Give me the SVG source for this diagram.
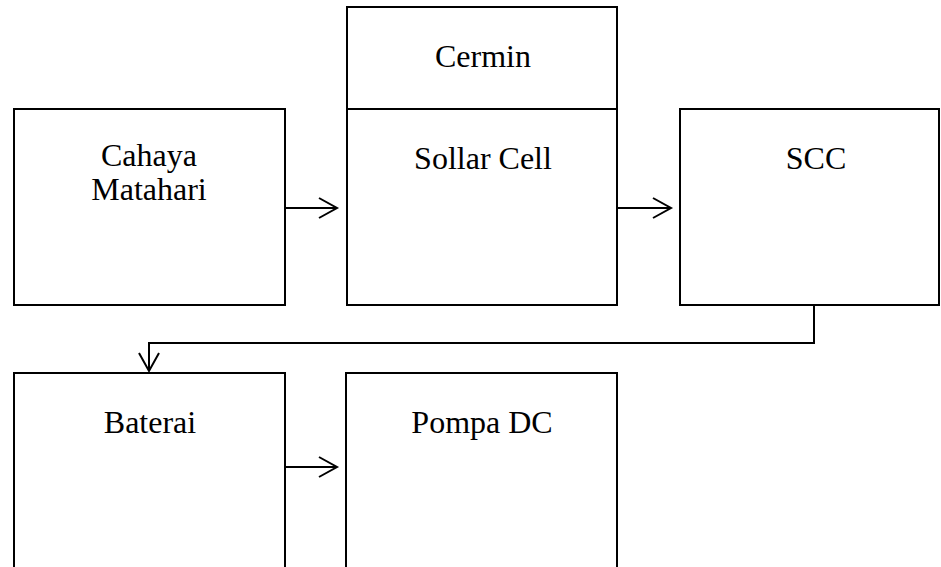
<svg xmlns="http://www.w3.org/2000/svg" width="941" height="567" viewBox="0 0 941 567">
<style>
.box{fill:#fff;stroke:#000;stroke-width:2}
.lbl{font-family:"Liberation Serif","Times New Roman",serif;font-size:32px;fill:#000;text-anchor:middle}
.conn{fill:none;stroke:#000;stroke-width:2}
</style>
<defs>
<marker id="arr" markerUnits="userSpaceOnUse" markerWidth="22" markerHeight="24" refX="19" refY="11" orient="auto">
<path d="M1,1 L19,11 L1,21" fill="none" stroke="#000" stroke-width="2"/>
</marker>
</defs>
<rect width="941" height="567" fill="#fff"/>
<g id="cahaya">
<rect class="box" x="14" y="109" width="271" height="196"/>
<text class="lbl" x="149" y="166">Cahaya</text>
<text class="lbl" x="149" y="200">Matahari</text>
</g>
<g id="cermin">
<rect class="box" x="347" y="7" width="270" height="102"/>
<text class="lbl" x="483" y="67">Cermin</text>
</g>
<g id="sollar">
<rect class="box" x="347" y="109" width="270" height="196"/>
<text class="lbl" x="483" y="169">Sollar Cell</text>
</g>
<g id="scc">
<rect class="box" x="680" y="109" width="259" height="196"/>
<text class="lbl" x="816" y="169">SCC</text>
</g>
<g id="baterai">
<rect class="box" x="14" y="373" width="271" height="210"/>
<text class="lbl" x="150" y="433">Baterai</text>
</g>
<g id="pompa">
<rect class="box" x="346" y="373" width="271" height="210"/>
<text class="lbl" x="482" y="433">Pompa DC</text>
</g>
<g id="connectors">
<path class="conn" d="M285,208 H337" marker-end="url(#arr)"/>
<path class="conn" d="M617,208 H671" marker-end="url(#arr)"/>
<path class="conn" d="M814,305 V343 H149 V371" marker-end="url(#arr)"/>
<path class="conn" d="M285,467 H337" marker-end="url(#arr)"/>
</g>
</svg>
